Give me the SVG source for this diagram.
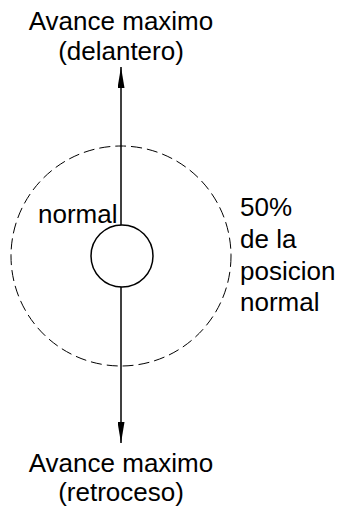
<svg xmlns="http://www.w3.org/2000/svg" width="340" height="508" viewBox="0 0 340 508">
<style>
text{font-family:"Liberation Sans",Arial,sans-serif;font-size:26px;fill:#000}
.c{text-anchor:middle}
.ln{stroke:#000;stroke-width:1.5;fill:none}
</style>
<defs>
<marker id="ah" viewBox="0 0 21 7" refX="21" refY="3.5" markerWidth="21" markerHeight="7" markerUnits="userSpaceOnUse" orient="auto">
<path d="M0,0 L21,3.5 L0,7 Z" fill="#000"/>
</marker>
</defs>
<rect width="340" height="508" fill="#fff"/>
<g id="outer">
<circle cx="121" cy="256" r="110" fill="none" stroke="#000" stroke-width="1" stroke-dasharray="11,5"/>
</g>
<g id="connectors">
<line class="ln" x1="121" y1="225" x2="121" y2="67" marker-end="url(#ah)"/>
<line class="ln" x1="121" y1="287" x2="121" y2="443" marker-end="url(#ah)"/>
</g>
<g id="center">
<circle cx="122" cy="256" r="31" fill="#fff" stroke="#000" stroke-width="1.5"/>
</g>
<g id="top-label">
<text class="c" x="121" y="30">Avance maximo</text>
<text class="c" x="121" y="60">(delantero)</text>
</g>
<g id="normal-label">
<text x="38" y="223">normal</text>
</g>
<g id="pct-label">
<text x="240" y="216">50%</text>
<text x="240" y="248">de la</text>
<text x="240" y="280">posicion</text>
<text x="240" y="311">normal</text>
</g>
<g id="bottom-label">
<text class="c" x="121" y="472">Avance maximo</text>
<text class="c" x="121" y="501">(retroceso)</text>
</g>
</svg>
